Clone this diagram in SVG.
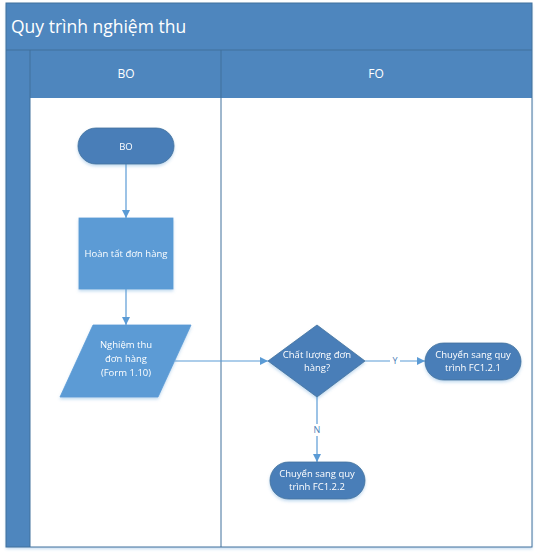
<svg xmlns="http://www.w3.org/2000/svg" width="538" height="555" viewBox="0 0 538 555">
<defs>
<style>
.band{fill:#4e86be;}
.line{stroke:#41719c;stroke-width:1;fill:none;}
.t{font-family:"Open Sans","Liberation Sans",sans-serif;fill:#ffffff;text-anchor:middle;}
.s{font-size:9.5px;}
.dark{fill:#4a7eb8;stroke:#41719c;stroke-width:0.8;}
.light{fill:#5b9bd5;stroke:#5b9bd5;stroke-width:0.8;}
.conn{stroke:#5b9bd5;stroke-width:1.2;fill:none;marker-end:url(#arr);}
.lbl{font-family:"Open Sans","Liberation Sans",sans-serif;font-size:9px;fill:#4a7eb8;text-anchor:middle;}
</style>
<marker id="arr" viewBox="0 0 10 10" refX="10" refY="5" markerWidth="8" markerHeight="8" markerUnits="userSpaceOnUse" orient="auto">
<path d="M0,0 L10,5 L0,10 z" fill="#5b9bd5"/>
</marker>
<filter id="sh" x="-10%" y="-10%" width="130%" height="140%">
<feDropShadow dx="0" dy="2" stdDeviation="1.5" flood-color="#5b9bd5" flood-opacity="0.35"/>
</filter>
</defs>
<g id="pool">
<rect x="6" y="3" width="526" height="544" fill="#ffffff" filter="url(#sh)"/>
<rect class="band" x="6" y="3" width="526" height="47"/>
<rect class="band" x="6" y="50" width="526" height="48"/>
<rect class="band" x="6" y="98" width="24" height="449"/>
<text x="11" y="33" font-family="Open Sans,Liberation Sans,sans-serif" font-size="17.5" fill="#ffffff">Quy trình nghiệm thu</text>
<line class="line" x1="6" y1="50" x2="532" y2="50"/>
<rect class="line" x="6" y="3" width="526" height="544"/>
<line class="line" x1="30" y1="50" x2="30" y2="547"/>
<line class="line" x1="221" y1="50" x2="221" y2="547"/>
</g>
<g id="lane-bo"><text class="t" x="126" y="78" font-size="12">BO</text></g>
<g id="lane-fo"><text class="t" x="376" y="78" font-size="12">FO</text></g>
<g id="connectors">
<line class="conn" x1="126" y1="164" x2="126" y2="218"/>
<line class="conn" x1="126" y1="289" x2="126" y2="325"/>
<line class="conn" x1="175" y1="361" x2="268" y2="361"/>
<line class="conn" x1="365" y1="361" x2="425" y2="361"/>
<line class="conn" x1="317" y1="397" x2="317" y2="462"/>
<rect x="390" y="355" width="10" height="12" fill="#ffffff"/>
<text class="lbl" x="395" y="364">Y</text>
<rect x="312" y="424" width="10" height="12" fill="#ffffff"/>
<text class="lbl" x="317" y="433">N</text>
</g>
<g id="start" filter="url(#sh)">
<rect class="dark" x="78" y="128" width="96" height="36" rx="18"/>
<text class="t s" x="126" y="149.5">BO</text>
</g>
<g id="complete" filter="url(#sh)">
<rect class="light" x="79" y="218" width="94" height="71"/>
<text class="t s" x="126" y="257">Hoàn tất đơn hàng</text>
</g>
<g id="accept" filter="url(#sh)">
<polygon class="light" points="93,325 191,325 158,397 60,397"/>
<text class="t s" x="126" y="348">Nghiệm thu</text>
<text class="t s" x="126" y="362">đơn hàng</text>
<text class="t s" x="126" y="376">(Form 1.10)</text>
</g>
<g id="decision" filter="url(#sh)">
<polygon class="dark" points="317,325 365,361 317,397 268,361"/>
<text class="t s" x="317" y="358">Chất lượng đơn</text>
<text class="t s" x="317" y="371">hàng?</text>
</g>
<g id="fc121" filter="url(#sh)">
<rect class="dark" x="425" y="343" width="96" height="37" rx="18.5"/>
<text class="t s" x="473" y="358">Chuyển sang quy</text>
<text class="t s" x="473" y="371">trình FC1.2.1</text>
</g>
<g id="fc122" filter="url(#sh)">
<rect class="dark" x="270" y="462" width="95" height="37" rx="18.5"/>
<text class="t s" x="317" y="477">Chuyển sang quy</text>
<text class="t s" x="317" y="490">trình FC1.2.2</text>
</g>
</svg>
